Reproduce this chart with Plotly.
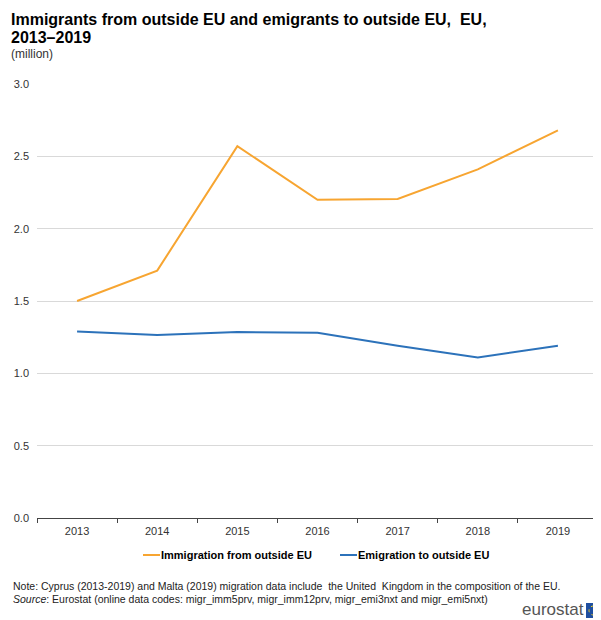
import plotly.graph_objects as go

years = ["2013", "2014", "2015", "2016", "2017", "2018", "2019"]
immigration = [1.50, 1.71, 2.57, 2.20, 2.205, 2.41, 2.68]
emigration = [1.29, 1.265, 1.285, 1.28, 1.19, 1.11, 1.19]
y_ticks = [0.0, 0.5, 1.0, 1.5, 2.0, 2.5, 3.0]
y_labels = ["0.0", "0.5", "1.0", "1.5", "2.0", "2.5", "3.0"]
series_names = ["Immigration from outside EU", "Emigration to outside EU"]

FONT = "Liberation Sans, Arial, sans-serif"
ORANGE = "#F7A531"
BLUE = "#2C72BA"

# page body has an 8px margin; lay out in window pixels and convert
OFF = 8
W, H = 601 - OFF, 620 - OFF
PLOT_L, PLOT_R, PLOT_T, PLOT_B = 37, 598, 84, 518  # window pixels
L, R, T, B = PLOT_L - OFF, W - (PLOT_R - OFF), PLOT_T - OFF, H - (PLOT_B - OFF)
PW, PH = W - L - R, H - T - B


def px(x):
    return (x - OFF - L) / PW


def py(y):
    return (H - B - (y - OFF)) / PH


fig = go.Figure()
fig.add_trace(go.Scatter(x=years, y=immigration, mode="lines",
                         name=series_names[0],
                         line=dict(color=ORANGE, width=2)))
fig.add_trace(go.Scatter(x=years, y=emigration, mode="lines",
                         name=series_names[1],
                         line=dict(color=BLUE, width=2)))

fig.update_layout(
    width=W, height=H,
    margin=dict(l=L, r=R, t=T, b=B, autoexpand=False),
    paper_bgcolor="white", plot_bgcolor="white",
    font=dict(family=FONT, size=11, color="#333333"),
    showlegend=False,
    xaxis=dict(type="category", showgrid=False, showline=True, linecolor="#444444",
               linewidth=1, ticks="outside", tickson="boundaries", ticklen=4,
               tickcolor="#444444", tickfont=dict(size=11, color="#333333"),
               ticklabelstandoff=3, range=[-0.5, 6.5]),
    yaxis=dict(range=[0, 3], tickvals=y_ticks, ticktext=y_labels,
               showgrid=True, gridcolor="#D9D9D9", gridwidth=1,
               zeroline=False, showline=False, ticks="",
               ticklabelstandoff=7,
               tickfont=dict(size=11, color="#333333")),
)

texts = [
    ("<b>Immigrants from outside EU and emigrants to outside EU,  EU,</b>", 10, 20, 16, "#000000"),
    ("<b>2013–2019</b>", 10, 37.5, 16, "#000000"),
    ("(million)", 10, 54, 12, "#333333"),
    ("Note: Cyprus (2013-2019) and Malta (2019) migration data include  the United  Kingdom in the composition of the EU.",
     12, 585.5, 10.5, "#222222"),
    ("<i>Source</i>: Eurostat (online data codes: migr_imm5prv, migr_imm12prv, migr_emi3nxt and migr_emi5nxt)",
     12, 599, 10.5, "#222222"),
]
for text, x, y, size, color in texts:
    fig.add_annotation(x=px(x), xref="paper", xanchor="left",
                       y=py(y), yref="paper", yanchor="middle",
                       text=text, showarrow=False, borderpad=0,
                       font=dict(size=size, color=color, family=FONT))

# legend drawn manually (short line symbols like the reference)
legend_items = [(series_names[0], ORANGE, 143, 160), (series_names[1], BLUE, 340, 357)]
LEG_Y = 555
for name, color, x0, x1 in legend_items:
    fig.add_shape(type="line", xref="paper", yref="paper",
                  x0=px(x0), x1=px(x1), y0=py(LEG_Y), y1=py(LEG_Y),
                  line=dict(color=color, width=2))
    fig.add_annotation(x=px(x1), xref="paper", xanchor="left", y=py(LEG_Y), yref="paper",
                       yanchor="middle", text="<b>" + name + "</b>", showarrow=False,
                       borderpad=0, font=dict(size=11, color="#000000", family=FONT))

# eurostat logo (text + flag box)
fig.add_annotation(x=px(585), xref="paper", xanchor="right", y=py(609.5), yref="paper",
                   yanchor="middle", text="eurostat", showarrow=False, borderpad=0,
                   font=dict(size=17, color="#555555", family=FONT))
fig.add_shape(type="rect", xref="paper", yref="paper",
              x0=px(586), x1=px(601), y0=py(618), y1=py(603),
              fillcolor="#1F4FA0", line=dict(width=0))
fig.add_shape(type="circle", xref="paper", yref="paper",
              x0=px(589), x1=px(598), y0=py(615), y1=py(606),
              fillcolor="rgba(0,0,0,0)", line=dict(color="#F2D024", width=1, dash="dot"))

fig.write_html("out.html")
